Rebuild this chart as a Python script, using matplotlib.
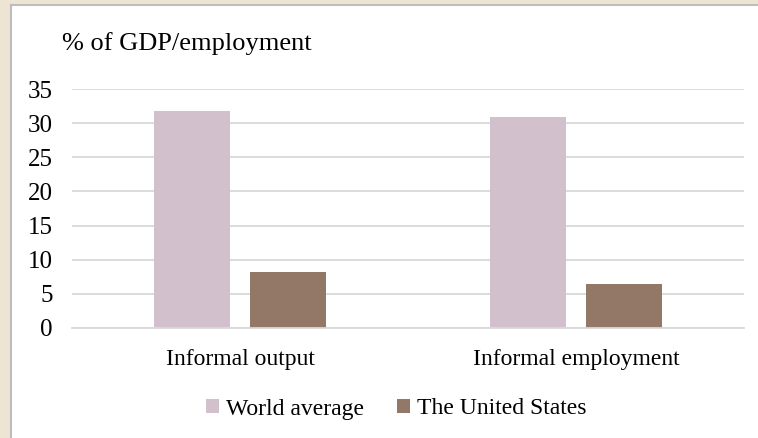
import numpy as np
import matplotlib.pyplot as plt
from matplotlib.patches import Rectangle

categories = ['Informal output', 'Informal employment']
world_average = [31.8, 30.9]
united_states = [8.2, 6.5]
series_names = ['World average', 'The United States']
yticks = [0, 5, 10, 15, 20, 25, 30, 35]

plt.rcParams['font.family'] = ['Liberation Serif', 'DejaVu Serif']

fig = plt.figure(figsize=(7.58, 4.38), dpi=100)
fig.patch.set_facecolor('#ede4d3')

# white chart panel with grey border on the top/left
panel = Rectangle((11 / 758, 0), 1, 1 - 5 / 438, transform=fig.transFigure,
                  facecolor='white', edgecolor='none', zorder=-5)
fig.patches.append(panel)
fig.add_artist(plt.Line2D([10.5 / 758, 1], [1 - 4.5 / 438, 1 - 4.5 / 438],
                          color='#bdbdbd', lw=1.5, transform=fig.transFigure,
                          zorder=-4))
fig.add_artist(plt.Line2D([10.5 / 758, 10.5 / 758], [0, 1 - 4.5 / 438],
                          color='#bdbdbd', lw=1.5, transform=fig.transFigure,
                          zorder=-4))

ax = fig.add_axes([72 / 758, 1 - 328 / 438, 672 / 758, 239 / 438])
ax.set_facecolor('none')

x = np.arange(len(categories))
w = 0.226
off = 0.143
ax.bar(x - off, world_average, w, color='#d3c0cd', label=series_names[0], zorder=2)
ax.bar(x + off, united_states, w, color='#947867', label=series_names[1], zorder=2)

ax.set_xlim(-0.5, 1.5)
ax.set_ylim(0, 35)
ax.set_yticks(yticks)
ax.set_xticks(x)
ax.set_xticklabels(categories)
ax.yaxis.grid(True, color='#d9d9d9', lw=1.3, zorder=0)
ax.set_axisbelow(True)
for s in ['top', 'right', 'left']:
    ax.spines[s].set_visible(False)
ax.spines['bottom'].set_color('#d9d9d9')
ax.spines['bottom'].set_linewidth(1.3)
ax.tick_params(axis='both', length=0, labelsize=17, colors='black')
ax.tick_params(axis='y', labelsize=18, pad=14)
ax.tick_params(axis='x', pad=15)

fig.text(62 / 758, 1 - 44 / 438, '% of GDP/employment', fontsize=19,
         va='center', ha='left')

fig.legend(loc='center', bbox_to_anchor=(396 / 758, 1 - 409 / 438), ncol=2,
           frameon=False, fontsize=17, handlelength=0.55, handleheight=0.55,
           handletextpad=0.3, columnspacing=1.4)

fig.savefig('out.png', dpi=100, facecolor=fig.get_facecolor())
